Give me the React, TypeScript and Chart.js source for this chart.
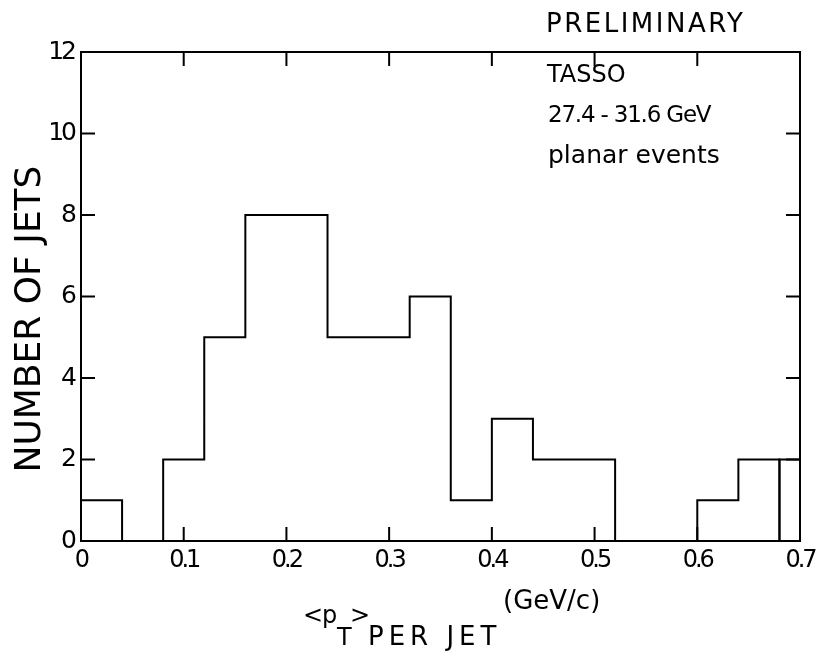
import React, { useEffect, useRef } from 'react';
import { Chart, registerables } from 'chart.js';

Chart.register(...registerables);

// ---- data ----
const BIN_START = 0;
const BIN_WIDTH = 0.04;
// counts per 0.04 GeV/c bin, from 0 to 0.68
const binCounts = [1, 0, 2, 5, 8, 8, 5, 5, 6, 1, 3, 2, 2, 0, 0, 1, 2];
// last bin 0.68-0.72, drawn separately and cut at the axis end (0.7)
const overflowCounts = [2];
const xTickValues = [0, 0.1, 0.2, 0.3, 0.4, 0.5, 0.6, 0.7];
const xTickLabels = ['0', '0.1', '0.2', '0.3', '0.4', '0.5', '0.6', '0.7'];
const yTickValues = [0, 2, 4, 6, 8, 10, 12];
const yTickLabels = ['0', '2', '4', '6', '8', '10', '12'];
const yAxisTitle = 'NUMBER OF JETS';
const xTitleParts = ['<p', 'T', '>', 'PER JET', '(GeV/c)'];
const stampText = 'PRELIMINARY';
const annotationLines = ['TASSO', '27.4 - 31.6 GeV', 'planar events'];

const FONT = "'DejaVu Sans', sans-serif";

function outline(start: number, width: number, counts: number[]) {
  const pts: { x: number; y: number }[] = [{ x: start, y: 0 }];
  counts.forEach((c, i) => pts.push({ x: start + i * width, y: c }));
  pts.push({ x: start + counts.length * width, y: 0 });
  return pts;
}

const framePlugin = {
  id: 'frameTicks',
  beforeDraw(chart: any) {
    (chart.ctx as any).letterSpacing = '-3px';
  },
  beforeDatasetsDraw(chart: any) {
    (chart.ctx as any).letterSpacing = '0px';
  },
  afterDatasetsDraw(chart: any) {
    const { ctx, chartArea: a, scales } = chart;
    ctx.save();
    ctx.strokeStyle = '#000';
    ctx.lineWidth = 2;
    ctx.strokeRect(a.left, a.top, a.right - a.left, a.bottom - a.top);
    const TL = 14;
    ctx.beginPath();
    scales.x.ticks.forEach((t: any) => {
      const px = scales.x.getPixelForValue(t.value);
      ctx.moveTo(px, a.bottom);
      ctx.lineTo(px, a.bottom - TL);
      ctx.moveTo(px, a.top);
      ctx.lineTo(px, a.top + TL);
    });
    scales.y.ticks.forEach((t: any) => {
      const py = scales.y.getPixelForValue(t.value);
      ctx.moveTo(a.left, py);
      ctx.lineTo(a.left + TL, py);
      ctx.moveTo(a.right, py);
      ctx.lineTo(a.right - TL, py);
    });
    ctx.stroke();
    ctx.restore();
  },
  afterDraw(chart: any) {
    const { ctx } = chart;
    ctx.save();
    ctx.fillStyle = '#000';
    ctx.textBaseline = 'alphabetic';
    ctx.textAlign = 'left';
    const txt = (s: string, x: number, y: number, size: number, ls = 0) => {
      ctx.font = `${size}px ${FONT}`;
      (ctx as any).letterSpacing = `${ls}px`;
      ctx.fillText(s, x, y);
    };
    txt(stampText, 546, 32, 26, 2.5);
    txt(annotationLines[0], 547, 82, 24);
    txt(annotationLines[1], 548, 122, 23, -1.2);
    txt(annotationLines[2], 548, 163, 25);

    // x title with sub/superscripts
    txt(xTitleParts[0], 303, 623, 24, -1);
    txt(xTitleParts[1], 337, 645, 24);
    txt(xTitleParts[2], 350, 623, 24, -1);
    txt(xTitleParts[3], 368, 645, 26, 5);
    txt(xTitleParts[4], 503, 609, 26);

    // y title
    ctx.translate(40, 319);
    ctx.rotate(-Math.PI / 2);
    ctx.textAlign = 'center';
    txt(yAxisTitle, 0, 0, 36);
    ctx.restore();
    (ctx as any).letterSpacing = '0px';
  },
};

export default function App() {
  const ref = useRef<HTMLCanvasElement | null>(null);
  useEffect(() => {
    if (!ref.current) return;
    const chart = new Chart(ref.current, {
      type: 'scatter',
      data: {
        datasets: [
          {
            data: outline(BIN_START, BIN_WIDTH, binCounts),
            showLine: true,
            stepped: true,
            borderColor: '#000',
            borderWidth: 2,
            pointRadius: 0,
            fill: false,
            clip: 2,
          } as any,
          {
            data: outline(BIN_START + binCounts.length * BIN_WIDTH, BIN_WIDTH, overflowCounts),
            showLine: true,
            stepped: true,
            borderColor: '#000',
            borderWidth: 2,
            pointRadius: 0,
            fill: false,
            clip: 1,
          } as any,
        ],
      },
      options: {
        responsive: false,
        animation: false,
        layout: { padding: { left: 0, top: 52, right: 18, bottom: 0 } },
        plugins: { legend: { display: false }, tooltip: { enabled: false }, title: { display: false } },
        scales: {
          x: {
            type: 'linear',
            min: 0,
            max: 0.7,
            grid: { display: false, drawTicks: false, tickLength: 0 },
            border: { display: false },
            afterBuildTicks: (s: any) => {
              s.ticks = xTickValues.map((v) => ({ value: v }));
            },
            afterFit: (s: any) => {
              s.height = 111;
              s.paddingLeft = 0;
              s.paddingRight = 0;
            },
            ticks: {
              padding: 5,
              color: '#000',
              font: { family: FONT, size: 24 },
              maxRotation: 0,
              autoSkip: false,
              callback: (_v: any, i: number) => xTickLabels[i],
            },
          },
          y: {
            type: 'linear',
            min: 0,
            max: 12,
            grid: { display: false, drawTicks: false, tickLength: 0 },
            border: { display: false },
            afterBuildTicks: (s: any) => {
              s.ticks = yTickValues.map((v) => ({ value: v }));
            },
            afterFit: (s: any) => {
              s.width = 81;
              s.paddingTop = 0;
              s.paddingBottom = 0;
            },
            ticks: {
              padding: 7,
              color: '#000',
              font: { family: FONT, size: 25 },
              autoSkip: false,
              callback: (_v: any, i: number) => yTickLabels[i],
            },
          },
        },
      },
      plugins: [framePlugin],
    });
    return () => chart.destroy();
  }, []);
  return (
    <div style={{ position: 'absolute', left: 0, top: 0, width: 818, height: 652, background: '#fff' }}>
      <canvas ref={ref} width={818} height={652} />
    </div>
  );
}
